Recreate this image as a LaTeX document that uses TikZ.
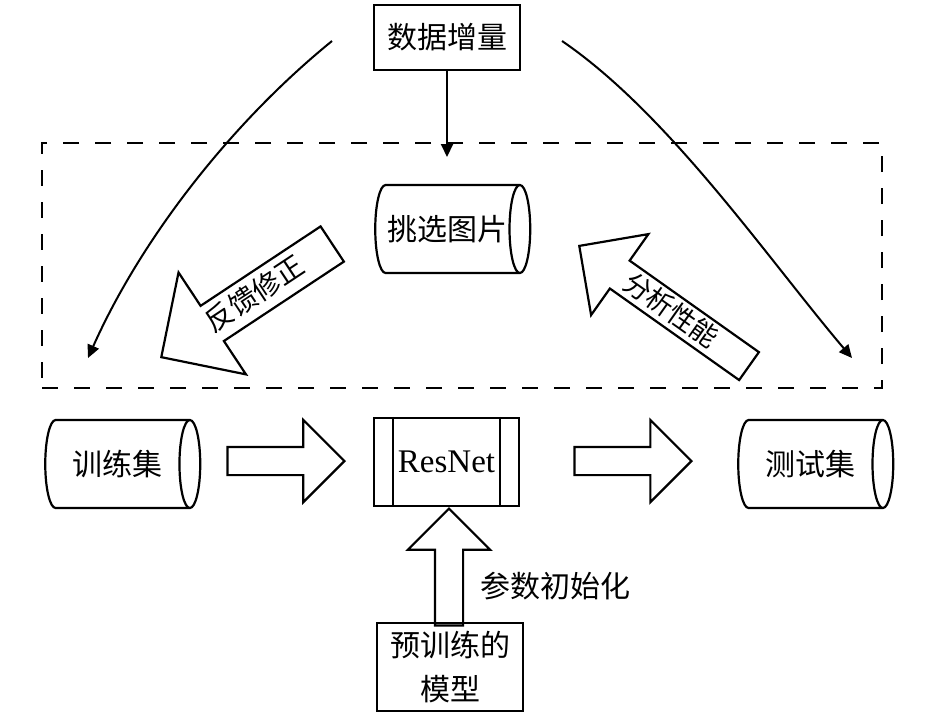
\documentclass[tikz,border=0pt]{standalone}
\usepackage{fontspec}
\setmainfont{Noto Sans CJK SC}
\newfontfamily\latinfont{Liberation Serif}
\usetikzlibrary{arrows.meta,positioning,shapes.geometric,shapes.arrows,calc}

\begin{document}
\begin{tikzpicture}[
    x=0.5pt, y=-0.5pt,
    font=\fontsize{15}{21.5}\selectfont,
    box/.style={draw, line width=1.1pt, minimum width=73pt, minimum height=32.5pt, align=center, inner sep=2pt},
    store/.style={draw, line width=1.1pt, cylinder, aspect=0.75, minimum width=44pt, minimum height=77.5pt, inner sep=0pt},
    zone/.style={draw, line width=1pt, dash pattern=on 8pt off 8pt, minimum width=420pt, minimum height=122.5pt},
    flow/.style={-{Triangle[length=6.5pt,width=6pt]}, line width=1pt},
    fat/.style={draw, single arrow, line width=1.1pt, single arrow tip angle=90, inner sep=6.5pt, single arrow head extend=13.5pt, minimum width=40pt, minimum height=58.5pt},
    bigfat/.style={draw, single arrow, line width=1.1pt, single arrow tip angle=90, shape border rotate=180, anchor=tip}
]
\useasboundingbox (0,0) rectangle (945,720);

\node[box] (inc) at (447,37.5) {数据增量};
\node[zone] (sel) at (462,265.5) {};
\node[store] (pick) at (447,229) {挑选图片};
\node[store] (train) at (117,464) {训练集};
\node[box, minimum width=72.5pt, minimum height=44pt] (resnet) at (446.5,462) {\fontsize{16.5}{18}\latinfont ResNet};
\node[store] (test) at (810,464) {测试集};
\node[box, minimum height=44pt] (pre) at (450,667) {预训练的\\模型};
\node (init) at (555,586) {参数初始化};

% inner lines of the ResNet block
\draw[line width=1.1pt] ($(resnet.north west)+(20,0)$) -- ($(resnet.south west)+(20,0)$);
\draw[line width=1.1pt] ($(resnet.north east)+(-20,0)$) -- ($(resnet.south east)+(-20,0)$);

% hollow arrows
\node[fat, anchor=tip] (a1) at (346,461) {};
\node[fat, anchor=tip] (a2) at (693,461) {};
\node[fat, shape border rotate=90, anchor=tip] (a3) at (449,507) {};
\node[bigfat, rotate=33.5, font=\fontsize{14}{14}\selectfont, text height=12pt, text depth=3pt, inner ysep=2.5pt, inner xsep=2pt,
      minimum height=102.5pt, minimum width=60pt, single arrow head extend=20pt] (fb) at (160,358) {反馈修正};
\node[bigfat, rotate=-35.3, font=\fontsize{13.5}{13.5}\selectfont, text height=11.5pt, text depth=2.5pt, inner ysep=1pt, inner xsep=2pt,
      minimum height=104pt, minimum width=48.5pt, single arrow head extend=16.25pt] (ap) at (578,245) {分析性能};

% data increment arrows
\coordinate (ls) at (332,41);
\coordinate (le) at (88,358);
\coordinate (rs) at (562,41);
\coordinate (re) at (852,358);
\coordinate (dn) at (447,157);
\draw[flow] (inc) -- (dn);
\draw[flow] (ls) .. controls (231,123) and (141,239) .. (le);
\draw[flow] (rs) .. controls (669,114) and (768,259) .. (re);
\end{tikzpicture}
\end{document}
